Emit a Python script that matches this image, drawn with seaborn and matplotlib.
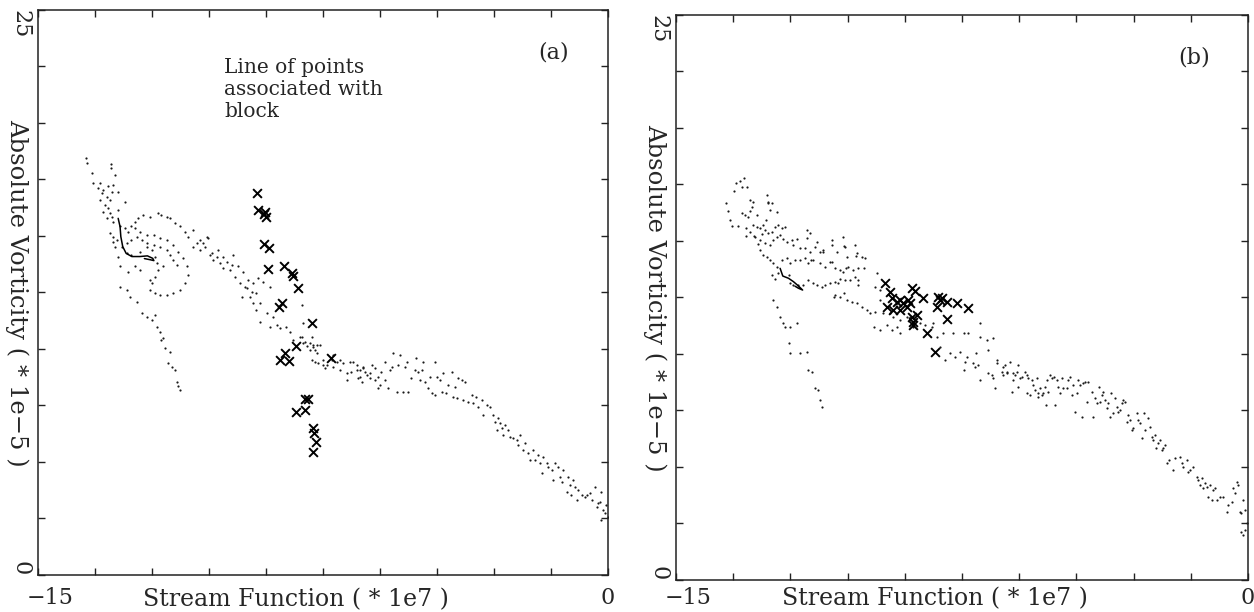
import numpy as np
import pandas as pd
import matplotlib as mpl
from matplotlib import pyplot as plt
from matplotlib.transforms import ScaledTranslation
import seaborn as sns

# ---- data (stream function * 1e7, absolute vorticity * 1e-5) ----

# panel (a): scattered grid points
a_dots = [
    # upper-left start of the band
    (-13.74, 18.44), (-13.72, 18.25), (-13.09, 18.19), (-13.09, 17.99), (-13.59, 17.77),
    (-12.97, 17.70), (-13.54, 17.33), (-13.37, 17.33), (-13.41, 17.11), (-13.28, 17.04),
    (-13.15, 17.19), (-13.02, 17.26), (-13.06, 16.96), (-13.32, 16.89), (-13.19, 16.74),
    (-12.89, 16.96), (-13.37, 16.60), (-13.10, 16.60), (-13.24, 16.37), (-13.15, 16.23),
    (-12.71, 16.52), (-13.28, 16.08), (-13.10, 16.01), (-13.19, 15.78), (-13.06, 15.86),
    (-13.02, 15.64), (-12.89, 16.15), (-12.84, 15.42), (-13.10, 15.12), (-13.02, 14.97),
    (-12.71, 15.34), (-12.62, 15.19), (-12.54, 15.42), (-12.45, 15.64), (-12.36, 15.78),
    (-12.23, 15.93), (-12.05, 15.86), (-11.83, 16.03), (-11.75, 15.93), (-11.61, 15.86),
    (-11.53, 15.78), (-11.39, 15.56), (-11.26, 15.42), (-11.13, 15.19), (-11.04, 14.97),
    (-10.91, 15.27), (-10.82, 14.68), (-10.74, 14.83), (-10.61, 14.53), (-10.52, 14.90),
    (-10.43, 14.24), (-10.30, 14.09), (-10.25, 14.38), (-10.12, 14.09), (-10.03, 13.87),
    (-9.90, 13.72), (-9.86, 14.16), (-9.73, 13.65), (-9.60, 13.42), (-9.46, 13.06),
    (-9.33, 12.91), (-9.20, 13.13), (-9.07, 12.98), (-8.90, 12.76), (-9.64, 12.32),
    (-9.42, 12.32), (-9.33, 12.02), (-9.16, 12.02), (-9.25, 11.73), (-8.98, 11.58),
    (-8.81, 11.43), (-8.90, 10.99), (-9.16, 11.21), (-8.72, 11.06), (-8.63, 10.92),
    (-8.46, 10.99), (-8.37, 10.77), (-8.28, 10.40), (-8.11, 10.55), (-8.02, 10.25),
    (-7.93, 10.11), (-7.84, 9.96), (-7.75, 10.18), (-7.67, 9.81), (-7.49, 9.52),
    (-7.40, 9.29), (-7.23, 9.22), (-7.05, 9.07), (-6.88, 8.93), (-6.79, 9.44),
    (-6.61, 9.07), (-6.53, 8.78), (-6.44, 9.15), (-6.26, 8.93), (-6.13, 8.63),
    (-6.04, 8.78),
    # dotted oval
    (-12.93, 14.83), (-12.80, 14.53), (-12.67, 14.68), (-12.54, 14.83), (-12.40, 14.97),
    (-12.27, 14.83), (-12.14, 14.68), (-12.01, 14.38), (-11.92, 14.09), (-11.88, 13.79),
    (-11.83, 13.50), (-11.92, 13.20), (-12.01, 12.91), (-12.05, 12.61), (-11.92, 12.47),
    (-11.79, 12.39), (-11.61, 12.39), (-11.44, 12.47), (-11.26, 12.61), (-11.13, 12.91),
    (-11.04, 13.28), (-11.09, 13.65), (-11.18, 14.01), (-11.31, 14.31), (-11.44, 14.60),
    (-11.61, 14.83), (-11.79, 14.90), (-11.96, 15.05), (-12.14, 15.05), (-12.32, 15.19),
    (-12.45, 15.34),
    # inside the oval
    (-12.67, 14.24), (-12.54, 14.16), (-12.32, 14.31), (-12.14, 14.53), (-11.96, 14.60),
    (-11.79, 14.53), (-11.61, 14.38), (-11.53, 14.16), (-11.44, 13.94), (-11.35, 13.72),
    (-11.70, 13.65), (-12.05, 13.06), (-12.32, 13.50), (-12.45, 13.65), (-12.62, 13.42),
    (-12.84, 13.65), (-12.89, 14.09), (-12.97, 14.53), (-13.02, 14.75),
    # branch falling away to the lower left
    (-12.84, 12.76), (-12.67, 12.61), (-12.58, 12.32), (-12.40, 12.10), (-12.27, 11.58),
    (-12.14, 11.43), (-12.01, 11.29), (-11.92, 11.51), (-11.88, 10.99), (-11.79, 10.77),
    (-11.70, 10.47), (-11.75, 10.40), (-11.66, 10.03), (-11.53, 9.88), (-11.57, 9.37),
    (-11.48, 9.22), (-11.39, 9.07), (-11.35, 8.56), (-11.31, 8.34), (-11.26, 8.19),
    # right of the oval
    (-10.91, 14.53), (-10.74, 14.38), (-10.65, 14.68), (-10.56, 14.97), (-10.47, 14.16),
    (-10.39, 13.94), (-10.21, 13.79), (-10.12, 13.57), (-9.95, 13.50), (-9.82, 13.20),
    (-9.68, 12.91), (-9.55, 12.76), (-9.51, 12.69), (-9.38, 12.54), (-9.25, 12.47),
    # lower right part of the band
    (-8.04, 11.95), (-8.02, 11.14), (-8.06, 10.55), (-7.97, 10.33), (-7.84, 10.25),
    (-7.75, 10.10), (-7.67, 10.18), (-7.58, 10.18), (-7.80, 10.55), (-7.71, 9.96),
    (-7.80, 9.52), (-7.71, 9.44), (-7.62, 9.37), (-7.49, 9.29), (-7.45, 9.15),
    (-7.27, 9.52), (-7.23, 9.74), (-7.14, 9.44), (-7.05, 9.52), (-6.96, 9.37),
    (-6.88, 8.63), (-6.75, 9.00), (-6.70, 9.44), (-6.61, 9.29), (-6.57, 8.70),
    (-6.53, 9.07), (-6.48, 8.56), (-6.44, 9.22), (-6.40, 9.00), (-6.35, 8.85),
    (-6.26, 8.70), (-6.22, 9.29), (-6.13, 9.15), (-6.04, 8.26), (-6.00, 8.41),
    (-5.96, 9.00), (-5.87, 8.63), (-5.87, 9.44), (-5.74, 9.07), (-5.78, 8.26),
    (-5.69, 9.22), (-5.65, 9.81), (-5.56, 8.11), (-5.52, 9.29), (-5.47, 9.74),
    (-5.39, 8.11), (-5.34, 9.22), (-5.30, 9.44), (-5.25, 8.11), (-5.17, 8.70),
    (-5.08, 9.07), (-5.04, 9.59), (-4.99, 9.00), (-4.95, 8.63), (-4.90, 9.07),
    (-4.86, 9.44), (-4.81, 8.56), (-4.73, 8.26), (-4.68, 8.78), (-4.64, 8.04),
    (-4.55, 9.44), (-4.55, 7.97), (-4.51, 8.78), (-4.42, 8.63), (-4.38, 8.11),
    (-4.33, 8.92), (-4.25, 8.04), (-4.20, 8.41), (-4.11, 9.00), (-4.07, 7.89),
    (-4.03, 8.33), (-3.98, 7.82), (-3.94, 8.70), (-3.85, 8.63), (-3.81, 7.74),
    (-3.76, 8.56), (-3.67, 7.67), (-3.59, 7.97), (-3.54, 7.60), (-3.46, 7.89),
    (-3.41, 7.45), (-3.32, 7.74), (-3.28, 7.08), (-3.19, 7.52), (-3.10, 7.45),
    (-3.02, 7.08), (-2.97, 6.79), (-2.93, 6.42), (-2.89, 6.93), (-2.84, 6.71),
    (-2.80, 6.49), (-2.75, 6.19), (-2.71, 6.64), (-2.62, 6.42), (-2.58, 6.12),
    (-2.49, 6.05), (-2.40, 5.97), (-2.36, 5.75), (-2.32, 6.19), (-2.23, 5.53),
    (-2.18, 5.83), (-2.10, 5.38), (-2.05, 5.09), (-1.96, 5.53), (-1.92, 5.09),
    (-1.83, 5.31), (-1.79, 4.94), (-1.74, 4.50), (-1.70, 5.24), (-1.61, 4.94),
    (-1.57, 4.79), (-1.48, 4.65), (-1.44, 4.20), (-1.39, 4.94), (-1.31, 4.79),
    (-1.26, 4.35), (-1.22, 4.13), (-1.18, 4.65), (-1.09, 3.69), (-1.04, 4.35),
    (-1.00, 3.98), (-0.96, 3.54), (-0.91, 4.20), (-0.87, 3.91), (-0.82, 3.32),
    (-0.78, 3.76), (-0.69, 3.54), (-0.61, 3.47), (-0.56, 3.54), (-0.47, 3.62),
    (-0.43, 3.32), (-0.34, 3.91), (-0.30, 3.02), (-0.25, 3.17), (-0.21, 3.25),
    (-0.17, 3.69), (-0.12, 2.88), (-0.08, 2.73), (-0.04, 3.10), (-0.01, 2.58),
    (-0.17, 2.43),
]

# panel (a): points on the line associated with the block
a_marks = [
    (-9.23, 16.89), (-9.20, 16.15), (-9.05, 15.98), (-9.00, 15.86), (-9.02, 16.05),
    (-9.05, 14.65), (-8.92, 14.45), (-8.95, 13.53), (-8.53, 13.67), (-8.31, 13.35),
    (-8.28, 13.23), (-8.17, 12.69), (-8.67, 11.87), (-8.59, 12.02), (-7.80, 11.16),
    (-8.22, 10.15), (-8.63, 9.51), (-8.50, 9.81), (-8.39, 9.48), (-7.30, 9.59),
    (-7.97, 7.77), (-7.89, 7.77), (-8.21, 7.23), (-7.97, 7.30), (-7.76, 6.49),
    (-7.74, 6.27), (-7.68, 5.90), (-7.76, 5.46),
]

# panel (a): short solid curve
a_curve = [
    (-12.89, 15.78), (-12.84, 15.41), (-12.82, 14.97), (-12.77, 14.53), (-12.68, 14.23),
    (-12.53, 14.09), (-12.32, 14.09), (-12.12, 14.12), (-11.98, 14.01), (-11.95, 13.91),
    (-12.05, 13.95), (-12.20, 14.00),
]

# panel (b): scattered grid points
b_dots = [
    # top-left
    (-13.70, 16.67), (-13.64, 16.31), (-13.59, 15.95), (-13.48, 17.21), (-13.43, 17.57),
    (-13.32, 17.65), (-13.27, 17.39), (-13.54, 15.68), (-13.38, 15.68), (-13.16, 15.59),
    (-13.06, 16.31), (-13.01, 16.49), (-12.58, 16.67), (-12.63, 15.95), (-12.74, 15.32),
    (-12.95, 15.23), (-12.84, 14.87), (-13.16, 15.23),
    (-13.23, 17.77), (-13.15, 17.40), (-13.06, 16.81), (-12.97, 16.74), (-13.28, 16.22),
    (-13.19, 16.15), (-13.10, 16.07), (-12.88, 16.15), (-12.62, 17.03), (-12.58, 16.74),
    (-12.49, 16.66), (-12.53, 16.37), (-12.36, 16.29), (-12.97, 15.70), (-12.88, 15.63),
    (-12.80, 15.56), (-12.71, 15.70), (-12.67, 15.48), (-12.58, 15.34), (-12.49, 15.41),
    (-12.40, 15.63), (-12.32, 15.70), (-12.23, 15.56), (-12.14, 15.63), (-13.06, 15.41),
    (-12.93, 15.19), (-12.80, 15.04), (-12.67, 14.89), (-12.53, 14.82), (-12.45, 15.04),
    (-12.36, 15.19), (-12.27, 15.26), (-12.19, 15.11), (-12.10, 14.97), (-11.97, 15.04),
    (-11.84, 15.11), (-11.92, 14.82), (-11.75, 14.67), (-11.57, 15.48), (-11.49, 15.34),
    (-11.62, 14.67), (-11.49, 14.52), (-11.35, 14.75), (-11.31, 14.97), (-11.22, 14.52),
    (-11.14, 14.60), (-10.92, 15.04), (-10.92, 14.82), (-10.79, 14.52), (-10.61, 15.19),
    (-10.57, 14.75), (-10.52, 14.30), (-10.31, 14.82), (-10.26, 14.45),
    # middle of the band
    (-12.80, 14.60), (-12.71, 14.38), (-12.62, 14.30), (-12.53, 14.16), (-12.45, 14.01),
    (-12.36, 13.86), (-12.23, 14.16), (-12.10, 14.23), (-12.01, 14.01), (-11.88, 14.16),
    (-11.75, 14.16), (-11.62, 14.23), (-11.53, 14.01), (-11.40, 14.16), (-11.22, 14.01),
    (-11.09, 13.86), (-10.96, 14.08), (-10.83, 13.79), (-10.70, 13.71), (-10.61, 13.64),
    (-10.48, 13.86), (-10.35, 13.71), (-10.22, 13.79), (-10.13, 14.30), (-10.04, 14.23),
    (-12.49, 13.49), (-12.40, 13.34), (-12.32, 13.57), (-12.05, 13.49), (-12.01, 13.12),
    (-11.92, 13.05), (-11.79, 13.05), (-11.66, 13.05), (-11.53, 13.27), (-11.40, 13.12),
    (-11.31, 13.05), (-11.18, 12.98), (-11.09, 13.05), (-10.96, 13.12), (-10.83, 13.20),
    (-10.74, 13.12), (-10.70, 13.34), (-10.57, 13.27), (-10.44, 13.27), (-10.31, 13.42),
    (-10.22, 13.27), (-10.83, 12.61), (-10.70, 12.53), (-10.52, 12.39), (-10.39, 12.31),
    (-10.26, 12.24), (-10.13, 12.09), (-10.00, 11.94), (-9.91, 11.80), (-9.78, 11.87),
    (-9.74, 13.57), (-9.78, 12.98), (-9.65, 12.83), (-9.65, 12.39), (-9.56, 11.80),
    (-9.82, 11.21), (-9.65, 11.06), (-9.48, 11.28), (-9.34, 11.06), (-9.21, 11.21),
    (-9.12, 10.91),
    (-11.56, 15.14), (-11.46, 14.16), (-11.14, 14.51), (-10.92, 14.06), (-10.60, 14.78),
    (-10.55, 13.79), (-10.28, 14.34), (-10.07, 13.79), (-10.23, 13.07), (-10.60, 12.71),
    (-10.87, 12.54),
    # branch falling away to the lower left
    (-12.45, 12.39), (-12.36, 12.09), (-12.27, 11.65), (-12.19, 11.35), (-12.14, 11.21),
    (-12.01, 11.21), (-11.84, 11.35), (-12.05, 10.47), (-12.01, 10.03), (-11.75, 10.03),
    (-11.57, 10.10), (-11.53, 9.29), (-11.44, 9.22), (-11.35, 8.48), (-11.27, 8.40),
    (-11.22, 7.96), (-11.18, 7.67),
    # around and beyond the marked points
    (-8.95, 11.65), (-8.78, 11.21), (-8.60, 11.35), (-8.43, 10.91), (-8.30, 11.21),
    (-8.16, 10.76), (-8.08, 10.32), (-7.95, 9.73), (-7.81, 10.03), (-7.68, 9.88),
    (-7.55, 10.10), (-7.38, 9.88), (-7.20, 9.58), (-7.03, 11.35), (-7.03, 10.76),
    (-6.85, 10.62), (-6.68, 10.69), (-6.81, 10.17), (-6.59, 9.73), (-6.42, 9.44),
    (-6.33, 9.14), (-6.15, 8.85), (-6.07, 9.22), (-7.12, 10.03), (-7.46, 10.91),
    (-7.33, 10.91), (-7.73, 10.91), (-7.99, 10.91), (-8.25, 11.35), (-8.47, 11.28),
    (-8.86, 11.65), (-9.12, 11.50), (-9.30, 11.65), (-9.39, 11.80),
    # lower right part of the band
    (-7.46, 9.29), (-7.42, 9.66), (-7.16, 9.44), (-7.07, 9.51), (-7.03, 8.85),
    (-6.81, 9.15), (-6.72, 9.07), (-6.68, 8.92), (-6.63, 8.48), (-6.59, 9.59),
    (-6.46, 9.22), (-6.42, 9.07), (-6.37, 9.51), (-6.33, 9.22), (-6.24, 9.66),
    (-6.15, 9.15), (-6.20, 8.33), (-6.11, 9.07), (-6.02, 9.51), (-5.98, 8.92),
    (-6.02, 8.55), (-5.93, 9.00), (-5.85, 9.22), (-5.80, 9.07), (-5.80, 8.26),
    (-5.76, 8.92), (-5.72, 8.19), (-5.67, 8.85), (-5.63, 8.63), (-5.59, 8.41),
    (-5.54, 8.92), (-5.50, 8.26), (-5.50, 8.11), (-5.45, 8.48), (-5.41, 8.19),
    (-5.37, 8.26), (-5.32, 8.55), (-5.30, 7.74), (-5.26, 8.85), (-5.24, 8.33),
    (-5.19, 9.07), (-5.15, 8.92), (-5.10, 9.00), (-5.06, 7.74), (-5.02, 8.85),
    (-4.97, 8.55), (-4.93, 8.26), (-4.89, 8.92), (-4.84, 8.48), (-4.75, 8.48),
    (-4.71, 8.85), (-4.67, 9.00), (-4.62, 8.19), (-4.58, 8.63), (-4.54, 7.45),
    (-4.49, 8.26), (-4.45, 8.85), (-4.40, 8.63), (-4.36, 7.23), (-4.32, 8.70),
    (-4.27, 8.78), (-4.23, 7.89), (-4.19, 8.78), (-4.10, 8.33), (-4.06, 7.23),
    (-4.01, 8.04), (-3.97, 7.82), (-3.92, 8.55), (-3.88, 7.89), (-3.84, 8.19),
    (-3.79, 8.33), (-3.75, 7.96), (-3.71, 7.60), (-3.66, 7.82), (-3.62, 7.23),
    (-3.58, 8.26), (-3.53, 7.38), (-3.49, 8.04), (-3.44, 7.67), (-3.40, 7.45),
    (-3.36, 7.52), (-3.31, 7.82), (-3.27, 7.96), (-3.23, 7.89), (-3.18, 7.01),
    (-3.14, 7.30), (-3.09, 7.08), (-3.05, 6.64), (-3.01, 6.71), (-2.92, 7.38),
    (-2.88, 7.08), (-2.83, 6.93), (-2.79, 6.27), (-2.74, 7.38), (-2.70, 6.64),
    (-2.61, 7.15), (-2.57, 6.79), (-2.53, 6.34), (-2.48, 6.20), (-2.44, 6.42),
    (-2.41, 5.83), (-2.35, 6.05), (-2.30, 6.20), (-2.26, 5.75), (-2.22, 5.83),
    (-2.18, 5.97), (-2.13, 5.16), (-2.06, 5.31), (-1.96, 4.87), (-1.91, 5.38),
    (-1.78, 5.46), (-1.74, 5.16), (-1.70, 5.02), (-1.61, 5.31), (-1.56, 4.79),
    (-1.52, 4.87), (-1.43, 5.02), (-1.35, 4.57), (-1.30, 4.43), (-1.26, 4.20),
    (-1.21, 4.50), (-1.17, 4.06), (-1.13, 4.28), (-1.08, 4.13), (-1.04, 3.69),
    (-0.99, 4.20), (-0.95, 3.54), (-0.91, 3.98), (-0.87, 4.06), (-0.82, 3.54),
    (-0.73, 3.69), (-0.65, 3.69), (-0.56, 3.02), (-0.52, 3.32), (-0.43, 3.47),
    (-0.38, 4.06), (-0.34, 3.84), (-0.30, 4.35), (-0.25, 4.20), (-0.21, 3.02),
    (-0.17, 2.95), (-0.12, 3.54), (-0.08, 3.10), (-0.03, 2.51), (-0.17, 2.14),
    (-0.12, 1.99), (-0.08, 2.21),
]

# panel (b): marked points
b_marks = [
    (-9.52, 13.12), (-9.39, 12.75), (-9.34, 12.46), (-9.47, 12.09), (-9.30, 11.94),
    (-9.21, 12.31), (-9.12, 12.39), (-9.04, 12.24), (-8.95, 12.09), (-9.12, 11.94),
    (-8.91, 12.39), (-8.86, 12.24), (-8.82, 12.90), (-8.73, 12.80), (-8.82, 11.65),
    (-8.78, 11.43), (-8.69, 11.72), (-8.78, 11.28), (-8.51, 12.46), (-8.43, 10.91),
    (-8.21, 10.10), (-8.16, 12.09), (-8.12, 12.53), (-8.08, 12.39), (-8.03, 12.46),
    (-7.90, 12.31), (-7.64, 12.24), (-7.90, 11.57), (-7.33, 12.02),
]

# panel (b): short solid curve
b_curve = [
    (-12.27, 13.79), (-12.20, 13.45), (-12.05, 13.35), (-11.92, 13.20), (-11.79, 13.01),
    (-11.68, 12.83), (-11.79, 12.91), (-11.88, 13.00),
]

panels = [
    ("(a)", a_dots, a_marks, a_curve),
    ("(b)", b_dots, b_marks, b_curve),
]
x_ticks = np.arange(-15, 0.01, 1.5)
y_ticks = np.arange(0, 25.01, 2.5)

sns.set_style("ticks")
plt.rcParams["font.family"] = ["DejaVu Serif"]

fig = plt.figure(figsize=(12.54, 6.12), dpi=100)
rects = [[0.0303, 0.0605, 0.4545, 0.9232], [0.5391, 0.0523, 0.4561, 0.9232]]
xlabel_y = [-0.024, -0.013]
xtick_pad = [9, 5]

for i, (rect, (tag, dots, marks, curve)) in enumerate(zip(rects, panels)):
    ax = fig.add_axes(rect)
    d = pd.DataFrame(dots, columns=["psi", "zeta"])
    m = pd.DataFrame(marks, columns=["psi", "zeta"])
    c = pd.DataFrame(curve, columns=["psi", "zeta"])

    sns.scatterplot(data=d, x="psi", y="zeta", ax=ax, s=2.5, color="#1a1a1a",
                    linewidth=0, marker="o")
    sns.scatterplot(data=m, x="psi", y="zeta", ax=ax, s=40, color="black",
                    marker="x", linewidth=1.4)
    sns.lineplot(data=c, x="psi", y="zeta", ax=ax, sort=False, estimator=None,
                 color="black", lw=1.1)

    ax.set_xlim(-15, 0)
    ax.set_ylim(0, 25)
    ax.set_xticks(x_ticks)
    ax.set_yticks(y_ticks)
    ax.set_xticklabels(["\u221215"] + [""] * (len(x_ticks) - 2) + ["0"], fontsize=16)
    ax.set_yticklabels(["0"] + [""] * (len(y_ticks) - 2) + ["25"], fontsize=16, rotation=270)
    ax.tick_params(direction="in", length=5, width=1, top=True, right=True,
                   color="#222222")
    ax.tick_params(axis="x", pad=xtick_pad[i])
    ax.tick_params(axis="y", pad=5)
    ylabels = ax.get_yticklabels()
    ylabels[0].set_va("bottom")
    ylabels[-1].set_va("top")
    xlabels = ax.get_xticklabels()
    xlabels[0].set_transform(xlabels[0].get_transform()
                             + ScaledTranslation(9 / 72, 0, fig.dpi_scale_trans))
    for sp in ax.spines.values():
        sp.set_linewidth(1.1)
        sp.set_color("#222222")

    ax.set_xlabel("Stream Function ( * 1e7 )", fontsize=17)
    ax.xaxis.set_label_coords(0.453, xlabel_y[i])
    ax.set_ylabel("Absolute Vorticity ( * 1e\u22125 )", fontsize=17.5, rotation=270,
                  va="center", ha="center")
    ax.yaxis.set_label_coords(-0.037, 0.5)

    ax.text(0.905, 0.925, tag, transform=ax.transAxes, fontsize=16,
            ha="center", va="center")

fig.axes[0].text(0.327, 0.915, "Line of points\nassociated with\nblock",
                 transform=fig.axes[0].transAxes, fontsize=14.5, ha="left", va="top",
                 linespacing=1.2)

fig.savefig("out.png", dpi=100)
